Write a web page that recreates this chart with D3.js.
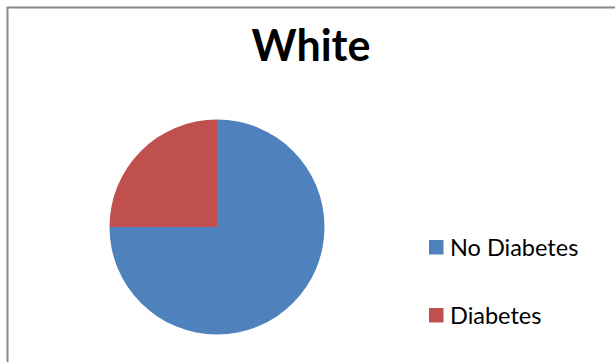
<!DOCTYPE html>
<html>
<head>
<meta charset="utf-8">
<script src="https://cdn.jsdelivr.net/npm/d3@7"></script>
<style>
  html, body { margin: 0; padding: 0; background: #fff; }
  svg { display: block; }
</style>
</head>
<body>
<div id="chart"></div>
<script>
// chart data
const title = "White";
const categories = ["No Diabetes", "Diabetes"];
const values = [75, 25];
const colors = ["#4F81BD", "#C0504D"];

const width = 615;
const height = 362;
const radius = 107.5;
const cx = 217;
const cy = 227;

const svg = d3.select("#chart")
    .append("svg")
    .attr("width", width)
    .attr("height", height);

// chart area border (runs off the right and bottom edges)
svg.append("rect")
    .attr("x", 7.5)
    .attr("y", 7.5)
    .attr("width", 640)
    .attr("height", 400)
    .attr("fill", "#fff")
    .attr("stroke", "#898989")
    .attr("stroke-width", 2);

svg.append("text")
    .attr("x", 311)
    .attr("y", 61)
    .attr("text-anchor", "middle")
    .attr("font-family", "Lato, 'Liberation Sans', sans-serif")
    .attr("font-weight", "bold")
    .attr("font-size", 43)
    .attr("fill", "#000")
    .text(title);

const pie = d3.pie().sort(null).value(d => d.value);
const arc = d3.arc().innerRadius(0).outerRadius(radius);
const data = categories.map((c, i) => ({ name: c, value: values[i] }));
const color = d3.scaleOrdinal().domain(categories).range(colors);

svg.append("g")
    .attr("transform", `translate(${cx},${cy})`)
    .selectAll("path")
    .data(pie(data))
    .join("path")
    .attr("d", arc)
    .attr("fill", d => color(d.data.name));

// legend
const legendY = d3.scalePoint().domain(categories).range([247.5, 315.5]);

const legend = svg.append("g")
    .selectAll("g")
    .data(categories)
    .join("g")
    .attr("transform", d => `translate(429, ${legendY(d)})`);

legend.append("rect")
    .attr("x", 0)
    .attr("y", -7.5)
    .attr("width", 14.5)
    .attr("height", 14.5)
    .attr("fill", d => color(d));

legend.append("text")
    .attr("x", 21)
    .attr("y", 8)
    .attr("font-family", "Lato, 'Liberation Sans', sans-serif")
    .attr("font-size", 23.5)
    .attr("fill", "#000")
    .text(d => d);
</script>
</body>
</html>
